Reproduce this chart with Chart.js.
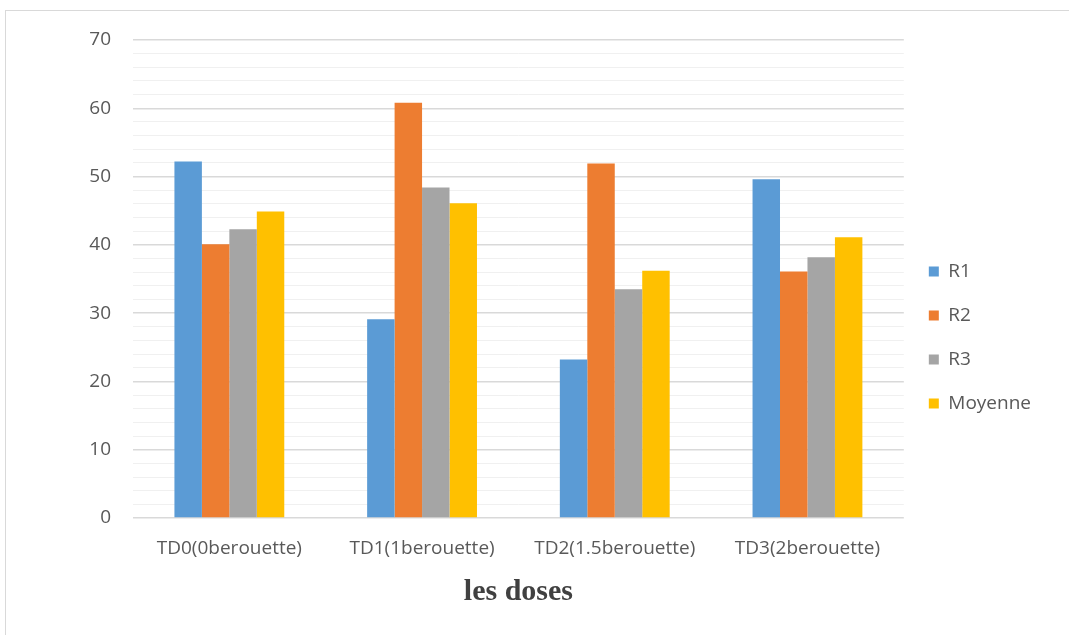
<!DOCTYPE html>
<html>
<head>
<meta charset="utf-8">
<script src="https://cdn.jsdelivr.net/npm/chart.js@4"></script>
<style>
  html, body { margin: 0; padding: 0; background: #fff; overflow: hidden; }
  #frame { position: absolute; left: 5px; top: 10px; width: 1080px; height: 640px; border: 1px solid #d9d9d9; }
  #wrap { position: absolute; left: 0; top: 0; width: 1069px; height: 635px; }
</style>
</head>
<body>
<div id="frame"></div>
<div id="wrap"><canvas id="chart"></canvas></div>
<script>
// Categories and series
const doses = ["TD0(0berouette)", "TD1(1berouette)", "TD2(1.5berouette)", "TD3(2berouette)"];
const r1 = [52.2, 29.1, 23.2, 49.6];
const r2 = [40.1, 60.8, 51.9, 36.1];
const r3 = [42.3, 48.4, 33.5, 38.2];
const moyenne = [44.9, 46.1, 36.2, 41.1];
const yTicks = [0, 10, 20, 30, 40, 50, 60, 70];

const textColor = "#595959";
const font = "'Open Sans', 'Liberation Sans', sans-serif";

const ctx = document.getElementById("chart").getContext("2d");

new Chart(ctx, {
  type: "bar",
  data: {
    labels: doses,
    datasets: [
      { label: "R1", data: r1, backgroundColor: "#5B9BD5" },
      { label: "R2", data: r2, backgroundColor: "#ED7D31" },
      { label: "R3", data: r3, backgroundColor: "#A5A5A5" },
      { label: "Moyenne", data: moyenne, backgroundColor: "#FFC000" }
    ]
  },
  options: {
    responsive: true,
    maintainAspectRatio: false,
    animation: false,
    categoryPercentage: 0.57,
    barPercentage: 1.0,
    layout: { padding: { left: 10, top: 40, right: 28, bottom: 0 } },
    plugins: {
      tooltip: { enabled: false },
      legend: {
        position: "right",
        labels: {
          boxWidth: 10,
          boxHeight: 10,
          padding: 25,
          color: textColor,
          font: { family: font, size: 19 }
        }
      }
    },
    scales: {
      x: {
        grid: { display: false },
        border: { display: false },
        afterFit: s => { s.height = 117; },
        ticks: { color: textColor, padding: 11, font: { family: font, size: 19 }, maxRotation: 0 },
        title: {
          display: true,
          text: "les doses",
          color: "#404040",
          padding: { top: 4, bottom: 25 },
          font: { family: "'Liberation Serif', 'DejaVu Serif', serif", size: 30, weight: "bold" }
        }
      },
      y: {
        min: 0,
        max: 70,
        border: { display: false },
        afterFit: s => { s.width = 123; },
        afterBuildTicks: s => {
          // minor gridlines every 2, labels only on the major values
          const t = [];
          for (let v = 0; v <= 70; v += 2) t.push({ value: v });
          s.ticks = t;
        },
        grid: {
          color: c => yTicks.includes(c.tick.value) ? "#d9d9d9" : "#f0f0f0",
          lineWidth: c => yTicks.includes(c.tick.value) ? 1.5 : 1,
          drawTicks: false
        },
        ticks: {
          color: textColor,
          padding: 22,
          autoSkip: false,
          font: { family: font, size: 19 },
          callback: v => yTicks.includes(v) ? v : ""
        }
      }
    }
  }
});
</script>
</body>
</html>
